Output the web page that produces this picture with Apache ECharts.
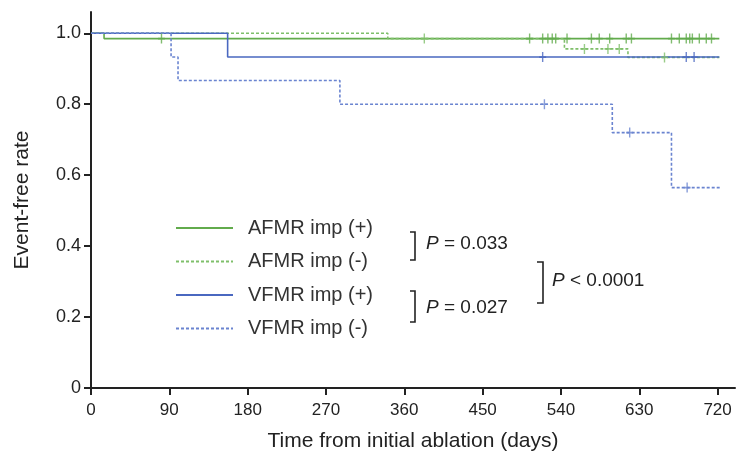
<!DOCTYPE html>
<html><head><meta charset="utf-8">
<script src="https://cdn.jsdelivr.net/npm/echarts@6/dist/echarts.min.js"></script>
<style>html,body{margin:0;padding:0;background:#fff}#c{width:737px;height:458px}</style>
</head><body><div id="c"></div>
<script>
// ---- data ----
const seriesNames = ['AFMR imp (+)', 'AFMR imp (-)', 'VFMR imp (+)', 'VFMR imp (-)'];
const afmrPosTimes = [0, 15, 722];
const afmrPosSurv  = [1, 0.985, 0.985];
const afmrPosCensor = [81, 504, 519, 525, 530, 534, 547, 575, 584, 596, 615, 621, 667, 676, 684, 688, 691, 699, 707, 713];
const afmrNegTimes = [0, 341, 544, 617, 722];
const afmrNegSurv  = [1, 0.985, 0.956, 0.932, 0.932];
const afmrNegCensor = [383, 567, 594, 607, 659];
const vfmrPosTimes = [0, 157, 722];
const vfmrPosSurv  = [1, 0.933, 0.933];
const vfmrPosCensor = [519, 684, 693];
const vfmrNegTimes = [0, 92, 100, 286, 599, 667, 724];
const vfmrNegSurv  = [1, 0.933, 0.867, 0.8, 0.72, 0.565, 0.565];
const vfmrNegCensor = [521, 619, 685];
const xTicks = [0, 90, 180, 270, 360, 450, 540, 630, 720];
const yTicks = [0, 0.2, 0.4, 0.6, 0.8, 1.0];
const pLabels = ['0.033', '0.027', '< 0.0001'];

const GREEN = '#62ab4c', GREEN_D = '#7fbf6a', BLUE = '#4a68c0', BLUE_D = '#6a84d0';

function steps(t, s) { return t.map((v, i) => [v, s[i]]); }
function survAt(t, s, x) { let v = s[0]; for (let i = 0; i < t.length; i++) { if (t[i] <= x) v = s[i]; } return v; }
function censorPts(t, s, c) { return c.map(x => [x, survAt(t, s, x)]); }

const groups = [
  { name: seriesNames[0], t: afmrPosTimes, s: afmrPosSurv, c: afmrPosCensor, color: GREEN, dash: 'solid' },
  { name: seriesNames[1], t: afmrNegTimes, s: afmrNegSurv, c: afmrNegCensor, color: GREEN_D, dash: [3, 2] },
  { name: seriesNames[2], t: vfmrPosTimes, s: vfmrPosSurv, c: vfmrPosCensor, color: BLUE, dash: 'solid' },
  { name: seriesNames[3], t: vfmrNegTimes, s: vfmrNegSurv, c: vfmrNegCensor, color: BLUE_D, dash: [3, 2] }
];
const plus = 'path://M4,0h2v5h4v2h-4v5h-2v-5h-4v-2h4z';
const series = [];
groups.forEach(g => {
  series.push({ name: g.name, type: 'line', step: 'end', data: steps(g.t, g.s), symbol: 'none',
    lineStyle: { color: g.color, width: 1.6, type: g.dash }, itemStyle: { color: g.color }, z: 3 });
});
groups.forEach(g => {
  series.push({ name: g.name + ' censor', type: 'scatter', data: censorPts(g.t, g.s, g.c), symbol: plus,
    symbolSize: [7, 10], itemStyle: { color: g.color }, z: 4 });
});

const chart = echarts.init(document.getElementById('c'), null, { renderer: 'canvas' });
const txt = '#222';
const rich = { i: { fontStyle: 'italic', fontFamily: 'Liberation Sans', fontSize: 19, fill: txt } };
chart.setOption({
  animation: false,
  grid: { left: 91, right: 2, top: 12, bottom: 70 },
  xAxis: { type: 'value', min: 0, max: 740,
    name: 'Time from initial ablation (days)', nameLocation: 'middle', nameGap: 43,
    nameTextStyle: { fontFamily: 'Liberation Sans', fontSize: 21, color: txt },
    axisLine: { lineStyle: { color: '#222', width: 2 } },
    axisTick: { customValues: xTicks, length: 7, lineStyle: { color: '#222', width: 2 } },
    axisLabel: { customValues: xTicks, fontFamily: 'Liberation Sans', fontSize: 17, color: txt, margin: 14 },
    splitLine: { show: false } },
  yAxis: { type: 'value', min: 0, max: 1.06,
    name: 'Event-free rate', nameLocation: 'middle', nameGap: 58, nameRotate: 90,
    nameTextStyle: { fontFamily: 'Liberation Sans', fontSize: 21, color: txt },
    axisLine: { show: true, lineStyle: { color: '#222', width: 2 } },
    axisTick: { show: true, customValues: yTicks, length: 7, lineStyle: { color: '#222', width: 2 } },
    axisLabel: { customValues: yTicks, fontFamily: 'Liberation Sans', fontSize: 18, color: txt, margin: 10,
      formatter: v => v === 0 ? '0' : v.toFixed(1) },
    splitLine: { show: false } },
  legend: { data: seriesNames, orient: 'vertical', left: 170, top: 213, itemWidth: 57, itemHeight: 20, itemGap: 13.5,
    itemStyle: { opacity: 0 },
    textStyle: { fontFamily: 'Liberation Sans', fontSize: 20, color: '#333', padding: [0, 0, 0, 10] } },
  graphic: [
    { type: 'polyline', shape: { points: [[410, 232], [415, 232], [415, 260], [410, 260]] }, style: { stroke: '#222', lineWidth: 1.6, fill: null } },
    { type: 'polyline', shape: { points: [[410, 291], [415, 291], [415, 322], [410, 322]] }, style: { stroke: '#222', lineWidth: 1.6, fill: null } },
    { type: 'polyline', shape: { points: [[537, 262], [543, 262], [543, 303], [537, 303]] }, style: { stroke: '#222', lineWidth: 1.6, fill: null } },
    { type: 'text', left: 426, top: 234, style: { text: '{i|P} = ' + pLabels[0], rich: rich, fontFamily: 'Liberation Sans', fontSize: 19, fill: txt } },
    { type: 'text', left: 426, top: 298, style: { text: '{i|P} = ' + pLabels[1], rich: rich, fontFamily: 'Liberation Sans', fontSize: 19, fill: txt } },
    { type: 'text', left: 552, top: 271, style: { text: '{i|P} ' + pLabels[2], rich: rich, fontFamily: 'Liberation Sans', fontSize: 19, fill: txt } }
  ],
  series: series
});
</script></body></html>
